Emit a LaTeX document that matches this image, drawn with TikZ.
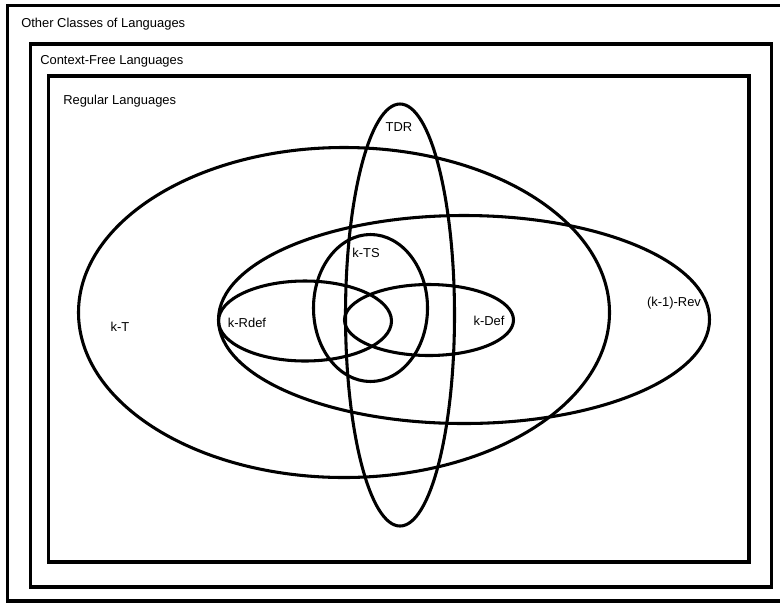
\documentclass[tikz,border=0pt]{standalone}
\usepackage{fontspec}
\setmainfont{Liberation Sans}
\begin{document}
\begin{tikzpicture}[x=0.75pt,y=-0.75pt,
  frame/.style={line width=2.4pt},
  set/.style={line width=2.3pt},
  lbl/.style={inner sep=0pt,font=\fontsize{9.7}{11}\selectfont}]
\useasboundingbox (0,0) rectangle (780,604);
\fill[white] (0,0) rectangle (780,604);
% frames
\draw[frame] (7.5,5.5) rectangle (790,601);
\draw[frame] (30.5,44) rectangle (771.5,587);
\draw[frame] (48.5,76) rectangle (749,562);
\node[lbl,anchor=west] (other) at (21,24) {Other Classes of Languages};
\node[lbl,anchor=west] (cfl) at (40,61) {Context-Free Languages};
\node[lbl,anchor=west] (reg) at (63,101) {Regular Languages};
% sets
\draw[set] (344,312.5) ellipse [x radius=265.5, y radius=165];
\draw[set] (464,319.5) ellipse [x radius=245.5, y radius=104];
\draw[set] (400,315) ellipse [x radius=54.5, y radius=211];
\draw[set] (370.5,308) ellipse [x radius=57, y radius=73.5];
\draw[set] (305,321) ellipse [x radius=86.5, y radius=40];
\draw[set] (429,320) ellipse [x radius=84.5, y radius=35.5];
% labels
\node[lbl] (tdr) at (399,127) {TDR};
\node[lbl] (kts) at (366,253) {k-TS};
\node[lbl] (krdef) at (247,323) {k-Rdef};
\node[lbl] (kdef) at (489,321) {k-Def};
\node[lbl] (kt) at (120,327) {k-T};
\node[lbl] (rev) at (674,303) {(k-1)-Rev};
\end{tikzpicture}
\end{document}
